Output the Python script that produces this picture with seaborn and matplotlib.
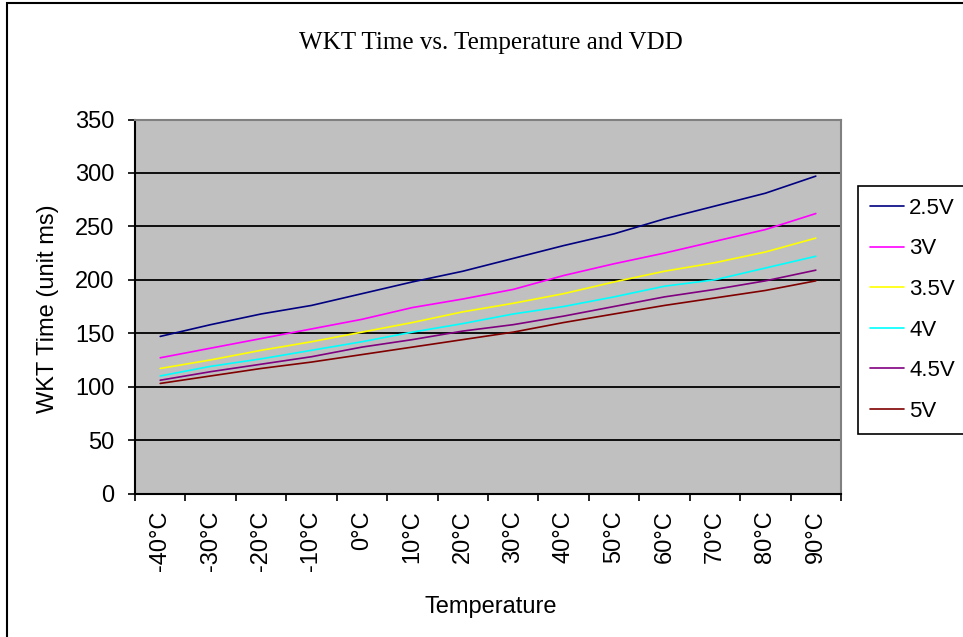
import numpy as np
import pandas as pd
import matplotlib
matplotlib.use("Agg")
import matplotlib.pyplot as plt
import seaborn as sns
from matplotlib.patches import Rectangle

# data
temps = ['-40°C', '-30°C', '-20°C', '-10°C', '0°C', '10°C', '20°C',
         '30°C', '40°C', '50°C', '60°C', '70°C', '80°C', '90°C']
vdd = ['2.5V', '3V', '3.5V', '4V', '4.5V', '5V']
wkt_25 = [147, 158, 168, 176, 187, 198, 208, 220, 232, 243, 257, 269, 281, 297]
wkt_30 = [127, 136, 145, 154, 163, 174, 182, 191, 204, 215, 225, 236, 247, 262]
wkt_35 = [117, 125, 134, 142, 151, 160, 170, 178, 187, 198, 208, 216, 226, 239]
wkt_40 = [110, 119, 126, 134, 142, 151, 159, 168, 175, 184, 194, 200, 211, 222]
wkt_45 = [106, 114, 121, 128, 137, 144, 152, 158, 166, 175, 184, 191, 199, 209]
wkt_50 = [103, 110, 117, 123, 130, 137, 144, 151, 160, 168, 176, 183, 190, 199]
colors = ['#000080', '#FF00FF', '#FFFF00', '#00FFFF', '#800080', '#800000']

series = [wkt_25, wkt_30, wkt_35, wkt_40, wkt_45, wkt_50]
rows = []
for name, vals in zip(vdd, series):
    for i, v in enumerate(vals):
        rows.append({'pos': i, 'Temperature': temps[i], 'VDD': name, 'WKT': v})
df = pd.DataFrame(rows)

sns.set_style("white")
plt.rcParams['font.family'] = ['Liberation Sans', 'DejaVu Sans']
plt.rcParams['text.color'] = 'black'
plt.rcParams['xtick.color'] = 'black'
plt.rcParams['ytick.color'] = 'black'

fig = plt.figure(figsize=(9.63, 6.37), dpi=100)
ax = fig.add_axes([135 / 963, 1 - 493.5 / 637, 706 / 963, 374 / 637])
ax.set_facecolor('#C0C0C0')

sns.lineplot(data=df, x='pos', y='WKT', hue='VDD', hue_order=vdd,
             palette=colors, linewidth=1.2, ax=ax)

ax.set_xlim(-0.5, len(temps) - 0.5)
ax.set_ylim(0, 350)
ax.set_yticks(np.arange(0, 351, 50))
ax.yaxis.grid(True, color='black', linewidth=1.3)
ax.set_axisbelow(True)

# category boundaries carry the ticks, labels sit in the middle
ax.set_xticks(np.arange(-0.5, len(temps), 1.0))
ax.set_xticklabels([])
ax.set_xticks(np.arange(len(temps)), minor=True)
ax.set_xticklabels(temps, minor=True, rotation=90)
ax.tick_params(axis='x', which='major', direction='out', length=5, width=1.2,
               color='black', bottom=True)
ax.tick_params(axis='x', which='minor', length=0, pad=12, labelsize=17)
ax.tick_params(axis='y', direction='out', length=5, width=1.2, color='black',
               left=True, pad=10, labelsize=17)
ax.set_xlabel('')
ax.set_ylabel('')

for side in ['left', 'bottom']:
    ax.spines[side].set_color('black')
    ax.spines[side].set_linewidth(1.5)
for side in ['top', 'right']:
    ax.spines[side].set_color('#808080')
    ax.spines[side].set_linewidth(1.5)

sns.move_legend(ax, 'upper left', bbox_to_anchor=(858 / 963, 1 - 185.7 / 637),
                bbox_transform=fig.transFigure, title=None, frameon=True,
                fancybox=False, edgecolor='black', framealpha=1, fontsize=16,
                borderaxespad=0, borderpad=0.55, labelspacing=0.88,
                handlelength=1.5, handletextpad=0.25)
ax.get_legend().get_frame().set_linewidth(1.2)

fig.text(491 / 963, 1 - 43 / 637, 'WKT Time vs. Temperature and VDD',
         family='Liberation Serif', fontsize=18, ha='center', va='center')
fig.text(491 / 963, 1 - 607 / 637, 'Temperature', fontsize=17,
         ha='center', va='center')
fig.text(48 / 963, 1 - 309 / 637, 'WKT Time (unit ms)', fontsize=17,
         rotation=90, ha='center', va='center')

# outer chart border
fig.patches.append(Rectangle((7 / 963, -0.1), 1.2, 1 - 3 / 637 + 0.1,
                             transform=fig.transFigure, fill=False,
                             edgecolor='black', linewidth=1.5))

fig.savefig('out.png', dpi=100)
